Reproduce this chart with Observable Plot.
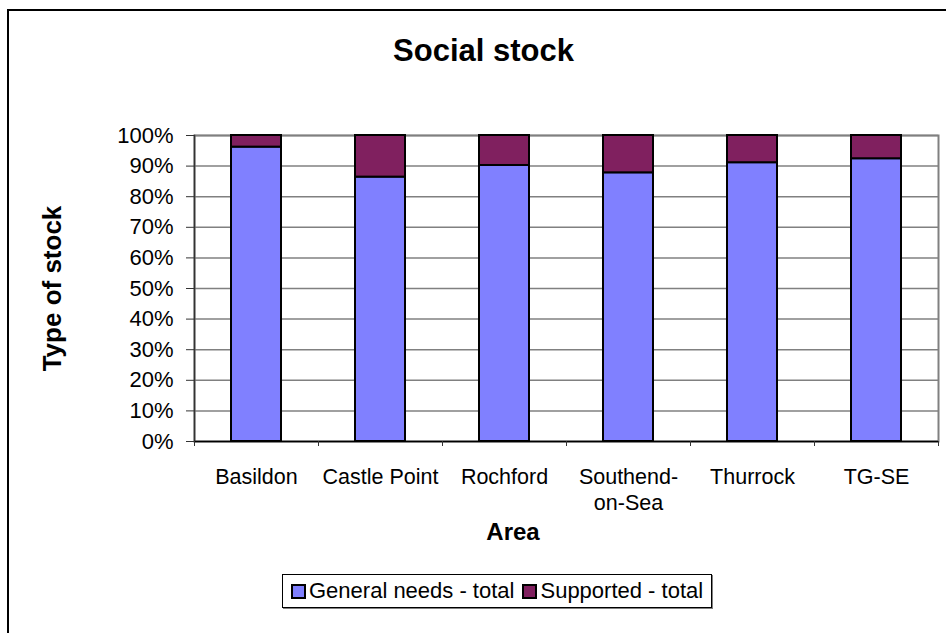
<!DOCTYPE html>
<html>
<head>
<meta charset="utf-8">
<script src="https://cdn.jsdelivr.net/npm/d3@7"></script>
<script src="https://cdn.jsdelivr.net/npm/@observablehq/plot@0.6"></script>
<style>
  html, body { margin: 0; padding: 0; background: #fff; }
  body { width: 946px; height: 633px; overflow: hidden; position: relative; font-family: "Liberation Sans", Arial, sans-serif; }
  #frame { position: absolute; left: 7px; top: 9px; width: 2000px; height: 2000px; border: 2px solid #000; box-sizing: border-box; z-index: 10; pointer-events: none; }
  #title { position: absolute; left: 0; top: 35px; width: 967px; text-align: center; font-size: 31px; line-height: 31px; font-weight: bold; color: #000; }
  #xtitle { position: absolute; left: 413px; top: 520px; width: 200px; text-align: center; font-size: 24px; line-height: 24px; font-weight: bold; color: #000; z-index: 5; }
  #chart { position: absolute; left: 0; top: 100px; }
  #legend { position: absolute; left: 282px; top: 574px; height: 34px; border: 1px solid #000; box-shadow: 1px 1px 0 #808080; box-sizing: border-box; display: flex; align-items: center; padding: 0 8px 0 8px; background: #fff; }
  .item { display: flex; align-items: center; font-size: 22px; color: #000; white-space: nowrap; margin-right: 8px; }
  .item:last-child { margin-right: 0; }
  .sw { width: 11px; height: 11px; border: 2px solid #000; margin-right: 3px; }
</style>
</head>
<body>
<div id="frame"></div>
<div id="title">Social stock</div>
<div id="chart"></div>
<div id="xtitle">Area</div>
<div id="legend"></div>
<script>
const areas = ["Basildon", "Castle Point", "Rochford", "Southend-on-Sea", "Thurrock", "TG-SE"];
const areaTickLabels = ["Basildon", "Castle Point", "Rochford", "Southend-\non-Sea", "Thurrock", "TG-SE"];
const generalNeeds = [96.2, 86.4, 90.2, 87.8, 91.1, 92.4];
const supported = [3.8, 13.6, 9.8, 12.2, 8.9, 7.6];
const seriesNames = ["General needs - total", "Supported - total"];
const seriesColors = ["#8080ff", "#80205f"];
const yTicks = [0, 10, 20, 30, 40, 50, 60, 70, 80, 90, 100];

const rows = [];
areas.forEach((a, i) => {
  rows.push({area: a, series: seriesNames[0], value: generalNeeds[i]});
  rows.push({area: a, series: seriesNames[1], value: supported[i]});
});

const halfStep = 62;

const chart = Plot.plot({
  width: 946,
  height: 460,
  marginTop: 35,
  marginBottom: 119,
  marginLeft: 194,
  marginRight: 8,
  style: {fontFamily: "'Liberation Sans', Arial, sans-serif", fontSize: "21px", color: "#000", overflow: "visible"},
  x: {domain: areas, paddingInner: 0.6, paddingOuter: 0.3},
  y: {domain: [0, 100]},
  color: {domain: seriesNames, range: seriesColors},
  marks: [
    Plot.gridY({ticks: yTicks, stroke: "#808080", strokeOpacity: 1, strokeWidth: 1.5}),
    Plot.frame({stroke: "#808080", strokeWidth: 2}),
    Plot.barY(rows, {x: "area", y: "value", fill: "series", stroke: "#000", strokeWidth: 2}),
    Plot.frame({anchor: "left", stroke: "#333", strokeWidth: 1.5}),
    Plot.ruleY([0], {stroke: "#000", strokeWidth: 1.5}),
    Plot.axisY({ticks: yTicks, tickFormat: d => d + "%", tickSize: 8, tickPadding: 13, fontSize: 22, label: null, stroke: "#333"}),
    Plot.axisY({ticks: [], label: "Type of stock", labelAnchor: "center", labelArrow: "none", labelOffset: 152, fontSize: 26, fontWeight: "bold"}),
    Plot.axisX({tickSize: 0, tickPadding: 24, fontSize: 21.5, lineHeight: 1.2, tickFormat: d => areaTickLabels[areas.indexOf(d)], label: null}),
    Plot.axisX(areas, {tickSize: 5, dx: -halfStep, tickFormat: () => "", label: null, stroke: "#333"}),
    Plot.axisX([areas[areas.length - 1]], {tickSize: 5, dx: halfStep, tickFormat: () => "", label: null, stroke: "#333"})
  ]
});
document.getElementById("chart").appendChild(chart);

const legend = document.getElementById("legend");
seriesNames.forEach((name, i) => {
  const item = document.createElement("div");
  item.className = "item";
  const sw = document.createElement("div");
  sw.className = "sw";
  sw.style.background = seriesColors[i];
  const label = document.createElement("span");
  label.textContent = name;
  item.appendChild(sw);
  item.appendChild(label);
  legend.appendChild(item);
});
</script>
</body>
</html>
